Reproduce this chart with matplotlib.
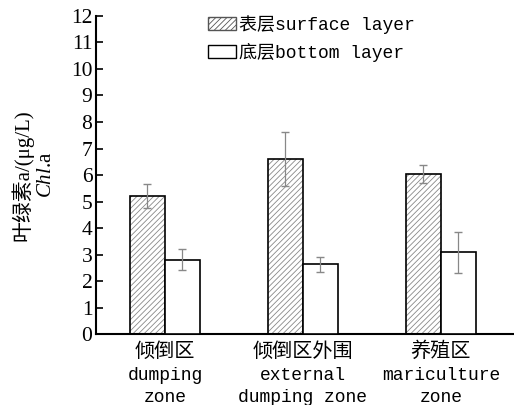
import matplotlib
matplotlib.use('Agg')
import matplotlib.pyplot as plt
import numpy as np
from matplotlib.patches import Patch

zones_cn = ['倾倒区', '倾倒区外围', '养殖区']
zones_en = ['dumping\nzone', 'external\ndumping zone', 'mariculture\nzone']
surface = [5.21, 6.60, 6.04]
surface_err = [0.45, 1.02, 0.33]
bottom = [2.80, 2.63, 3.08]
bottom_err = [0.40, 0.29, 0.76]
yticks = list(range(0, 13))

plt.rcParams['font.family'] = ['Liberation Serif', 'Noto Sans CJK SC']
plt.rcParams['mathtext.fontset'] = 'custom'
plt.rcParams['mathtext.it'] = 'Liberation Serif:italic'
plt.rcParams['mathtext.rm'] = 'Liberation Serif'
plt.rcParams['hatch.linewidth'] = 0.6
mono = ['Liberation Mono', 'Noto Sans CJK SC']

fig = plt.figure(figsize=(5.14, 4.05), dpi=100)
ax = fig.add_axes([0.1877, 0.1753, 0.8123, 0.7852])

x = np.arange(len(zones_cn))
w = 0.254

# hatch drawn in gray, then a black outline on top
ax.bar(x - w / 2, surface, w, color='white', edgecolor='#888888',
       hatch='//////', linewidth=0, zorder=2)
ax.bar(x - w / 2, surface, w, color='none', edgecolor='black',
       linewidth=1.2, zorder=3)
ax.bar(x + w / 2, bottom, w, color='white', edgecolor='black',
       linewidth=1.2, zorder=3)

ax.errorbar(x - w / 2, surface, yerr=surface_err, fmt='none',
            ecolor='#888888', elinewidth=0.9, capsize=3, zorder=4)
ax.errorbar(x + w / 2, bottom, yerr=bottom_err, fmt='none',
            ecolor='#888888', elinewidth=0.9, capsize=3, zorder=4)

ax.set_xlim(-0.496, 2.53)
ax.set_ylim(0, 12)
ax.set_yticks(yticks)
ax.set_yticklabels([str(t) for t in yticks], fontsize=15.5)
ax.tick_params(axis='y', direction='in', length=5, width=1.2, pad=3)
ax.set_xticks([])
for s in ['top', 'right']:
    ax.spines[s].set_visible(False)
for s in ['left', 'bottom']:
    ax.spines[s].set_linewidth(1.5)

# category labels
for i in range(len(zones_cn)):
    ax.text(x[i], -0.25, zones_cn[i], ha='center', va='top',
            family=['Noto Sans CJK SC'], fontsize=14.5, clip_on=False)
    ax.text(x[i], -1.25, zones_en[i], ha='center', va='top',
            family=mono, fontsize=13, linespacing=1.35, clip_on=False)

# y label (two lines)
fig.text(0.044, 0.568, '叶绿素a/(μg/L)', rotation=90, ha='center', va='center',
         fontsize=15)
fig.text(0.09, 0.568, r'$Chl$.a', rotation=90, ha='center', va='center',
         fontsize=15)

# legend
handles = [Patch(facecolor='white', edgecolor='#555555', hatch='//////',
                 linewidth=1.0, label='表层surface layer'),
           Patch(facecolor='white', edgecolor='black', linewidth=1.0,
                 label='底层bottom layer')]
leg = ax.legend(handles=handles, loc='upper left',
                bbox_to_anchor=(0.25, 1.025), frameon=False,
                prop={'family': mono, 'size': 13},
                handlelength=1.55, handleheight=0.7, handletextpad=0.15,
                labelspacing=0.5, borderaxespad=0)

fig.savefig('out.png', dpi=100)
